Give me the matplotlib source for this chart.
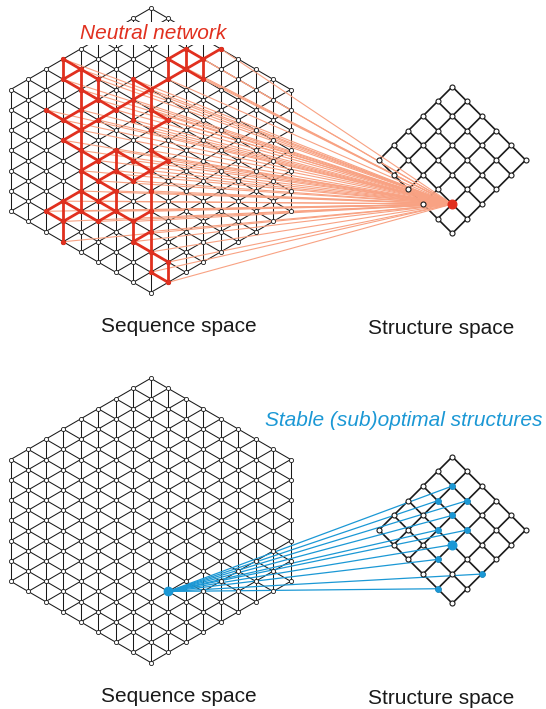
import numpy as np
import matplotlib.pyplot as plt
from matplotlib.collections import LineCollection

plt.rcParams['font.family'] = ['Liberation Sans', 'DejaVu Sans']

# sequence space: triangular lattice cut to a hexagon
HEX_HALF = 8          # columns either side of centre
HEX_SPAN = 28         # half-steps from top vertex to bottom vertex
GRID_N = 6            # structure space is a 6x6 grid turned 45 deg

# neutral network, edges as (column, half-row) pairs
red_edges = [
    ((-5, 5), (-5, 7)), ((-5, 5), (-4, 6)), ((-4, 6), (-3, 7)), ((-5, 7), (-4, 6)),
    ((-4, 6), (-4, 8)), ((-4, 8), (-4, 10)), ((-4, 10), (-4, 12)), ((-3, 7), (-3, 9)),
    ((-5, 7), (-4, 8)), ((-4, 8), (-3, 9)), ((-6, 10), (-5, 11)), ((-5, 11), (-4, 10)),
    ((-5, 11), (-4, 12)), ((-4, 10), (-3, 9)), ((-3, 9), (-2, 10)), ((-2, 10), (-1, 9)),
    ((-1, 9), (0, 8)), ((0, 8), (1, 7)), ((-2, 10), (-3, 11)), ((-3, 11), (-4, 12)),
    ((-4, 12), (-5, 13)), ((-1, 7), (-1, 9)), ((-1, 9), (-1, 11)), ((-1, 7), (0, 8)),
    ((0, 10), (1, 11)), ((1, 11), (0, 12)), ((0, 14), (1, 15)),
    # top right
    ((1, 5), (2, 4)), ((2, 4), (3, 5)), ((3, 5), (4, 4)), ((1, 5), (1, 7)),
    ((2, 4), (2, 6)), ((3, 5), (3, 7)), ((1, 7), (2, 6)), ((2, 6), (3, 7)),
    ((1, 5), (2, 6)), ((2, 6), (3, 5)),
    # middle
    ((-5, 13), (-4, 14)), ((-4, 12), (-4, 14)), ((-4, 14), (-4, 16)), ((-4, 16), (-3, 15)),
    ((-4, 14), (-3, 15)), ((-3, 15), (-2, 14)), ((-2, 14), (-2, 16)), ((-2, 16), (-1, 17)),
    ((-1, 17), (0, 16)), ((-2, 14), (-1, 15)), ((-1, 15), (0, 16)), ((1, 15), (0, 16)),
    ((-4, 16), (-3, 17)), ((-3, 17), (-2, 18)), ((-2, 16), (-3, 17)), ((-4, 16), (-4, 18)),
    ((-4, 18), (-4, 20)), ((-2, 18), (-2, 20)), ((-4, 18), (-3, 19)), ((-3, 19), (-2, 20)),
    ((-3, 19), (-2, 18)),
    # lower left
    ((-6, 20), (-5, 19)), ((-6, 20), (-5, 21)), ((-5, 19), (-5, 21)), ((-5, 21), (-5, 23)),
    ((-5, 19), (-4, 18)), ((-5, 19), (-4, 20)), ((-5, 21), (-4, 20)), ((-4, 20), (-3, 21)),
    ((-3, 21), (-2, 20)),
    # lower right
    ((-2, 20), (-1, 21)), ((-1, 21), (0, 20)), ((-1, 21), (-1, 23)), ((-1, 23), (0, 22)),
    ((-1, 23), (0, 24)), ((0, 24), (1, 25)), ((1, 25), (1, 27)), ((0, 26), (1, 27)),
]
red_spine = [(0, r) for r in range(8, 27, 2)]   # long vertical run in column 0

red_target = (4, 4)          # structure of the neutral network
source_seq = (1, 21)         # one sequence in the lower panel
mfe_node = (3, 3)
blue_nodes = [(1, 1), (1, 2), (2, 1), (2, 2), (2, 3), (3, 2), (3, 4), (5, 3), (4, 5)]

seq_label = "Sequence space"
struct_label = "Structure space"
red_label = "Neutral network"
blue_label = "Stable (sub)optimal structures"

RED = '#e1301f'
SALMON = '#f8a283'
BLUE = '#1b98d5'
INK = '#1a1a1a'

# layout (pixels)
HEX_CX = 150.7
DX, DY = 17.5, 10.15
TOPS = [8.3, 378.3]
DIA_CX = 452.3
DIA_TOPS = [86.7, 456.7]
H = 14.67


def seq_xy(node, top):
    c, r = node
    return HEX_CX + c * DX, top + r * DY


def str_xy(node, top):
    i, j = node
    return DIA_CX + (i - j) * H, top + (i + j) * H


def valid(c, r):
    return abs(c) <= HEX_HALF and abs(c) <= r <= HEX_SPAN - abs(c) and (r - c) % 2 == 0


def draw_hexagon(ax, top):
    nodes, segs = [], []
    for c in range(-HEX_HALF, HEX_HALF + 1):
        for r in range(abs(c), HEX_SPAN - abs(c) + 1, 2):
            nodes.append(seq_xy((c, r), top))
            for dc, dr in [(0, 2), (1, 1), (1, -1)]:
                if valid(c + dc, r + dr):
                    segs.append([seq_xy((c, r), top), seq_xy((c + dc, r + dr), top)])
    ax.add_collection(LineCollection(segs, colors=INK, linewidths=0.75, zorder=2))
    nodes = np.array(nodes)
    ax.plot(nodes[:, 0], nodes[:, 1], 'o', ms=3.0, mfc='white', mec=INK, mew=0.6, zorder=5)


def draw_diamond(ax, top):
    nodes, segs = [], []
    for i in range(GRID_N):
        for j in range(GRID_N):
            nodes.append(str_xy((i, j), top))
            if i + 1 < GRID_N:
                segs.append([str_xy((i, j), top), str_xy((i + 1, j), top)])
            if j + 1 < GRID_N:
                segs.append([str_xy((i, j), top), str_xy((i, j + 1), top)])
    ax.add_collection(LineCollection(segs, colors=INK, linewidths=1.2, zorder=2))
    nodes = np.array(nodes)
    ax.plot(nodes[:, 0], nodes[:, 1], 'o', ms=3.6, mfc='white', mec=INK, mew=0.8, zorder=5)


fig = plt.figure(figsize=(5.46, 7.09), dpi=100)
ax = fig.add_axes([0, 0, 1, 1])
ax.set_xlim(0, 546)
ax.set_ylim(709, 0)
ax.axis('off')

for top, dtop in zip(TOPS, DIA_TOPS):
    draw_hexagon(ax, top)
    draw_diamond(ax, dtop)

# top panel: neutral network
top, dtop = TOPS[0], DIA_TOPS[0]
edges = list(red_edges) + list(zip(red_spine[:-1], red_spine[1:]))
red_set = sorted({n for e in edges for n in e})
tx, ty = str_xy(red_target, dtop)
fan = [[seq_xy(n, top), (tx, ty)] for n in red_set]
ax.add_collection(LineCollection(fan, colors=SALMON, linewidths=0.8, zorder=3))
ax.add_collection(LineCollection([[seq_xy(a, top), seq_xy(b, top)] for a, b in edges],
                                 colors=RED, linewidths=2.0, zorder=4, capstyle='round'))
pts = np.array([seq_xy(n, top) for n in red_set])
ax.plot(pts[:, 0], pts[:, 1], 'o', ms=2.8, color=RED, zorder=6)
ax.plot(tx, ty, 'o', ms=6.2, color=RED, zorder=7)

ax.text(153, 39.3, red_label, color=RED, fontsize=15, style='italic', ha='center',
        va='baseline', zorder=8,
        bbox=dict(facecolor='white', edgecolor='none', pad=1.5))

# bottom panel: one sequence, its low-energy structures
top, dtop = TOPS[1], DIA_TOPS[1]
sx, sy = seq_xy(source_seq, top)
targets = blue_nodes + [mfe_node]
fan = [[(sx, sy), str_xy(n, dtop)] for n in targets]
ax.add_collection(LineCollection(fan, colors=BLUE, linewidths=0.9, zorder=3))
bpts = np.array([str_xy(n, dtop) for n in blue_nodes])
ax.plot(bpts[:, 0], bpts[:, 1], 'o', ms=3.8, color=BLUE, zorder=6)
mx, my = str_xy(mfe_node, dtop)
ax.plot(mx, my, 'o', ms=6.2, color=BLUE, zorder=7)
ax.plot(sx, sy, 'o', ms=6.0, color=BLUE, zorder=7)

ax.text(404, 426, blue_label, color=BLUE, fontsize=15, style='italic', ha='center',
        va='baseline')

for base in [0, 370]:
    ax.text(179, 332 + base, seq_label, color=INK, fontsize=15, ha='center', va='baseline')
    ax.text(441.5, 334 + base, struct_label, color=INK, fontsize=15, ha='center',
            va='baseline')

fig.savefig('out.png', dpi=100)
